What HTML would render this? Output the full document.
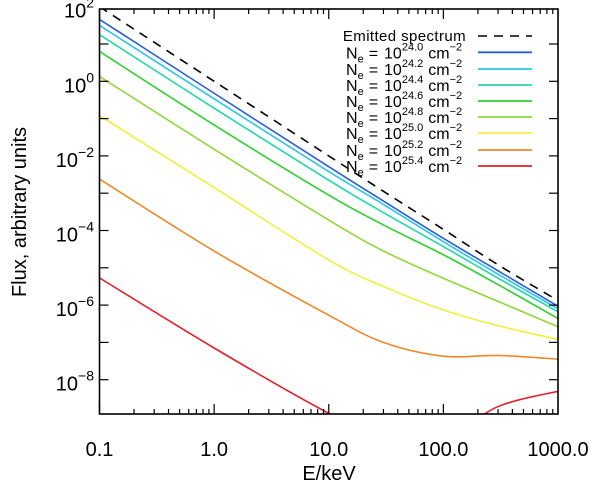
<!DOCTYPE html>
<html><head><meta charset="utf-8"><style>
html,body{margin:0;padding:0;background:#fff;}
svg{display:block;font-family:"Liberation Sans","DejaVu Sans",sans-serif;}
</style></head><body>
<svg id="chart" width="600" height="487" viewBox="0 0 600 487">
<defs><clipPath id="plotclip"><rect x="99.5" y="9" width="458.5" height="405"/></clipPath></defs>
<g id="curves" clip-path="url(#plotclip)"></g>
<g id="axes"></g>
<g id="legend"></g>
</svg>
<script>
const energies = [0.1, 1, 10, 30, 100, 300, 1000];
const emitted = [2.0, 0.0, -2.0, -2.95, -3.97, -4.92, -5.88];
const ne240 = [1.66, -0.32, -2.29, -3.21, -4.21, -5.08, -6.03];
const ne242 = [1.50, -0.47, -2.42, -3.30, -4.30, -5.17, -6.10];
const ne244 = [1.25, -0.72, -2.65, -3.52, -4.43, -5.28, -6.18];
const ne246 = [0.80, -1.17, -3.05, -3.85, -4.65, -5.45, -6.36];
const ne248 = [0.13, -1.82, -3.72, -4.55, -5.28, -5.90, -6.58];
const ne250 = [-0.92, -2.85, -4.79, -5.50, -6.13, -6.55, -6.92];
const ne252 = [-2.62, -4.55, -6.27, -7.00, -7.37, -7.35, -7.45];
const ne254 = [-5.27, -7.15, -8.90, -9.50, -9.60, -8.72, -8.31];
const seriesLabels = ["24.0","24.2","24.4","24.6","24.8","25.0","25.2","25.4"];
const seriesColors = ["#2a5fd8","#2cc4ee","#22d8a8","#2fcf2f","#8fd83a","#f2ee3a","#f0862a","#e0202a"];
const xTicks = [0.1, 1, 10, 100, 1000];
const xTickLabels = ["0.1","1.0","10.0","100.0","1000.0"];
const yTicks = [2, 0, -2, -4, -6, -8];

const NS="http://www.w3.org/2000/svg";
const X0=99.5, X1=558, Y0=9, Y1=414;
function xs(e){return X0+(Math.log10(e)+1)*(X1-X0)/4;}
function ys(l){return 81.3-37.3*l;}
function mk(tag,attrs,parent){const el=document.createElementNS(NS,tag);for(const k in attrs)el.setAttribute(k,attrs[k]);parent.appendChild(el);return el;}
function pathFor(vals){
  const p=energies.map((e,i)=>[xs(e),ys(vals[i])]);
  let d="M"+p[0][0].toFixed(2)+","+p[0][1].toFixed(2);
  for(let i=0;i<p.length-1;i++){
    const a=p[Math.max(0,i-1)],b=p[i],c=p[i+1],n=p[Math.min(p.length-1,i+2)];
    const c1=[b[0]+(c[0]-a[0])/6,b[1]+(c[1]-a[1])/6],c2=[c[0]-(n[0]-b[0])/6,c[1]-(n[1]-b[1])/6];
    d+=" C"+c1[0].toFixed(2)+","+c1[1].toFixed(2)+" "+c2[0].toFixed(2)+","+c2[1].toFixed(2)+" "+c[0].toFixed(2)+","+c[1].toFixed(2);
  }
  return d;
}
const curves=document.getElementById('curves');
const allSeries=[ne240,ne242,ne244,ne246,ne248,ne250,ne252,ne254];
allSeries.forEach((s,i)=>{
  const el=mk('path',{d:pathFor(s),fill:'none',stroke:seriesColors[i],'stroke-width':1.6},curves);
  
  
});
const em=mk('path',{d:pathFor(emitted),fill:'none',stroke:'#000','stroke-width':1.6,'stroke-dasharray':'9,7'},curves);



const axes=document.getElementById('axes');
const frame=mk('rect',{x:X0,y:Y0,width:X1-X0,height:Y1-Y0,fill:'none',stroke:'#000','stroke-width':1.6},axes);


for(let dec=-1;dec<3;dec++){
  for(let m=1;m<10;m++){
    const e=m*Math.pow(10,dec);const x=xs(e);const L=m===1?10:5;
    mk('line',{x1:x,y1:Y1,x2:x,y2:Y1-L,stroke:'#000','stroke-width':1.2},axes);
    mk('line',{x1:x,y1:Y0,x2:x,y2:Y0+L,stroke:'#000','stroke-width':1.2},axes);
  }
}
xTicks.forEach((t,i)=>{
  const tx=mk('text',{x:xs(t),y:456,'font-size':20,'text-anchor':'middle',fill:'#000'},axes);
  tx.textContent=xTickLabels[i];
  
  
});
for(let l=1;l>=-8;l--){
  const y=ys(l);
  mk('line',{x1:X0,y1:y,x2:X0+9,y2:y,stroke:'#000','stroke-width':1.2},axes);
  mk('line',{x1:X1,y1:y,x2:X1-9,y2:y,stroke:'#000','stroke-width':1.2},axes);
}
yTicks.forEach(t=>{
  const tx=mk('text',{x:94,y:ys(t)+11,'font-size':20,'text-anchor':'end',fill:'#000'},axes);
  tx.innerHTML='10<tspan dy="-10" font-size="14">'+(t<0?'\u2212'+(-t):t)+'</tspan>';
  
  
});
const xt=mk('text',{x:329,y:480,'font-size':20,'text-anchor':'middle',fill:'#000'},axes);
xt.textContent='E/keV';


const yt=mk('text',{x:0,y:0,'font-size':20,'text-anchor':'middle',fill:'#000',transform:'translate(26,212) rotate(-90)'},axes);
yt.textContent='Flux, arbitrary units';



const lg=document.getElementById('legend');
const rows=[36,52.3,69,85,101,117,133,150,166];
const e0=mk('text',{x:466,y:rows[0]+5,'font-size':15,'text-anchor':'end',fill:'#000','letter-spacing':'0.4'},lg);
e0.textContent='Emitted spectrum';


const el0=mk('line',{x1:478,y1:rows[0],x2:532,y2:rows[0],stroke:'#000','stroke-width':1.6,'stroke-dasharray':'9,7'},lg);


seriesLabels.forEach((s,i)=>{
  const y=rows[i+1];
  const t=mk('text',{x:346,y:y+6,'font-size':16,fill:'#000'},lg);
  t.innerHTML='N<tspan dy="4" font-size="11">e</tspan><tspan dy="-4" dx="5">=</tspan><tspan dx="6">10</tspan><tspan dy="-8" font-size="11">'+s+'</tspan><tspan dy="8" dx="5">cm</tspan><tspan dy="-8" font-size="11">\u22122</tspan>';
  
  
  const ln=mk('line',{x1:478,y1:y,x2:532,y2:y,stroke:seriesColors[i],'stroke-width':1.8},lg);
  
  
});
</script>
</body></html>
